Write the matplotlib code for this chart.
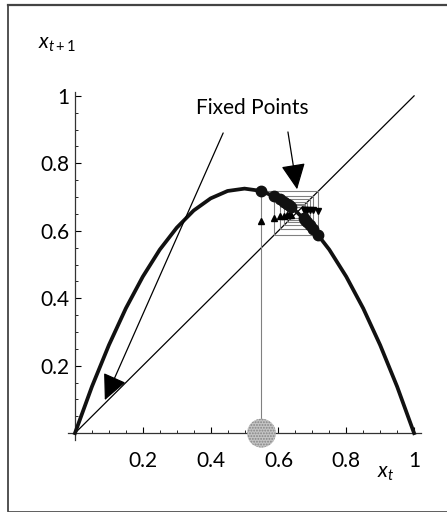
import matplotlib.pyplot as plt
from matplotlib.lines import Line2D
from matplotlib.patches import FancyArrowPatch

plt.rcParams['font.family'] = ['Lato', 'DejaVu Sans']
plt.rcParams['mathtext.fontset'] = 'custom'
plt.rcParams['mathtext.it'] = 'Lato:italic'
plt.rcParams['mathtext.rm'] = 'Lato'
plt.rcParams['hatch.linewidth'] = 0.9

# logistic map (peak ~0.725 at x=0.5)
curve_x = [0.0, 0.05, 0.10, 0.15, 0.20, 0.25, 0.30, 0.35, 0.40, 0.45, 0.50,
           0.55, 0.60, 0.65, 0.70, 0.75, 0.80, 0.85, 0.90, 0.95, 1.0]
curve_y = [0.0, 0.138, 0.261, 0.370, 0.464, 0.544, 0.609, 0.660, 0.696, 0.718, 0.725,
           0.718, 0.696, 0.660, 0.609, 0.544, 0.464, 0.370, 0.261, 0.138, 0.0]
# cobweb iterates, starting at the grey disc
iterates = [0.55, 0.718, 0.587, 0.703, 0.606, 0.693, 0.617, 0.685,
            0.626, 0.679, 0.632, 0.675, 0.637, 0.671]
tick_vals = [0.2, 0.4, 0.6, 0.8, 1.0]
tick_labels = ['0.2', '0.4', '0.6', '0.8', '1']
minor_vals = [0.05, 0.1, 0.15, 0.25, 0.3, 0.35, 0.45, 0.5, 0.55,
              0.65, 0.7, 0.75, 0.85, 0.9, 0.95]

fig = plt.figure(figsize=(4.47, 5.15), dpi=100)
ax = fig.add_axes([0.1298, 0.1262, 0.8345, 0.7204])
ax.set_xlim(-0.05, 1.05)
ax.set_ylim(-0.05, 1.05)

# axes through the origin
for s in ['top', 'right']:
    ax.spines[s].set_visible(False)
ax.spines['left'].set_position(('data', 0))
ax.spines['bottom'].set_position(('data', 0))
ax.spines['bottom'].set_bounds(-0.02, 1.02)
ax.spines['left'].set_bounds(-0.02, 1.01)
for s in ['left', 'bottom']:
    ax.spines[s].set_linewidth(0.9)
    ax.spines[s].set_color('#333333')
ax.set_xticks(tick_vals)
ax.set_xticklabels(tick_labels)
ax.set_yticks(tick_vals)
ax.set_yticklabels(tick_labels)
ax.set_xticks(minor_vals, minor=True)
ax.set_yticks(minor_vals, minor=True)
ax.tick_params(axis='x', which='major', direction='in', length=4, width=0.8,
               pad=13, labelsize=15)
ax.tick_params(axis='y', which='major', direction='in', length=4, width=0.8,
               pad=4, labelsize=15)
ax.tick_params(which='minor', direction='in', length=2, width=0.6)

# diagonal and map
ax.plot([0, 1], [0, 1], color='black', lw=0.9, zorder=2)
ax.plot(curve_x, curve_y, color='#111111', lw=2.7, zorder=3)

# cobweb
px = [iterates[0]]
py = [0.0]
for i in range(len(iterates) - 1):
    px += [iterates[i], iterates[i + 1]]
    py += [iterates[i + 1], iterates[i + 1]]
ax.plot(px, py, color='#808080', lw=0.8, zorder=2)

# small arrowheads on the vertical steps
for i in range(len(iterates) - 1):
    a, b = iterates[i], iterates[i + 1]
    mid = (a + b) / 2
    if b > a:
        ax.plot(iterates[i], mid - 0.006, marker='^', ms=4.5, color='black', zorder=4)
    else:
        ax.plot(iterates[i], mid + 0.006, marker='v', ms=4.5, color='black', zorder=4)

# dots on the curve
ax.plot(iterates[:-1], iterates[1:], 'o', color='#111111', ms=7.5, zorder=5)

# starting disc
ax.scatter([iterates[0]], [0], s=430, facecolor='#c4c4c4', edgecolor='#858585',
           hatch='......', lw=0, zorder=6, clip_on=False)

# labels
ax.text(0.522, 0.965, 'Fixed Points', ha='center', va='center', fontsize=15)
arrow_style = '-|>,head_length=0.8,head_width=0.38'
ax.add_patch(FancyArrowPatch((0.437, 0.89), (0.088, 0.098), arrowstyle=arrow_style,
                             mutation_scale=20, color='black', lw=0.9,
                             shrinkA=0, shrinkB=0, zorder=7))
ax.add_patch(FancyArrowPatch((0.628, 0.893), (0.655, 0.723), arrowstyle=arrow_style,
                             mutation_scale=20, color='black', lw=0.9,
                             shrinkA=0, shrinkB=0, zorder=7))
ax.text(0.915, -0.119, r'$x_t$', ha='center', va='center', fontsize=15,
        clip_on=False)
ax.text(-0.053, 1.155, r'$x_{t+1}$', ha='center', va='center', fontsize=15,
        clip_on=False)

# page frame
frame_kw = dict(color='#444444', transform=fig.transFigure)
fig.add_artist(Line2D([0.018, 1.0], [0.990, 0.990], lw=1.6, **frame_kw))
fig.add_artist(Line2D([0.018, 0.018], [0.008, 0.990], lw=1.3, **frame_kw))
fig.add_artist(Line2D([0.018, 1.0], [0.008, 0.008], lw=0.6, **frame_kw))

fig.savefig('out.png', dpi=100)
